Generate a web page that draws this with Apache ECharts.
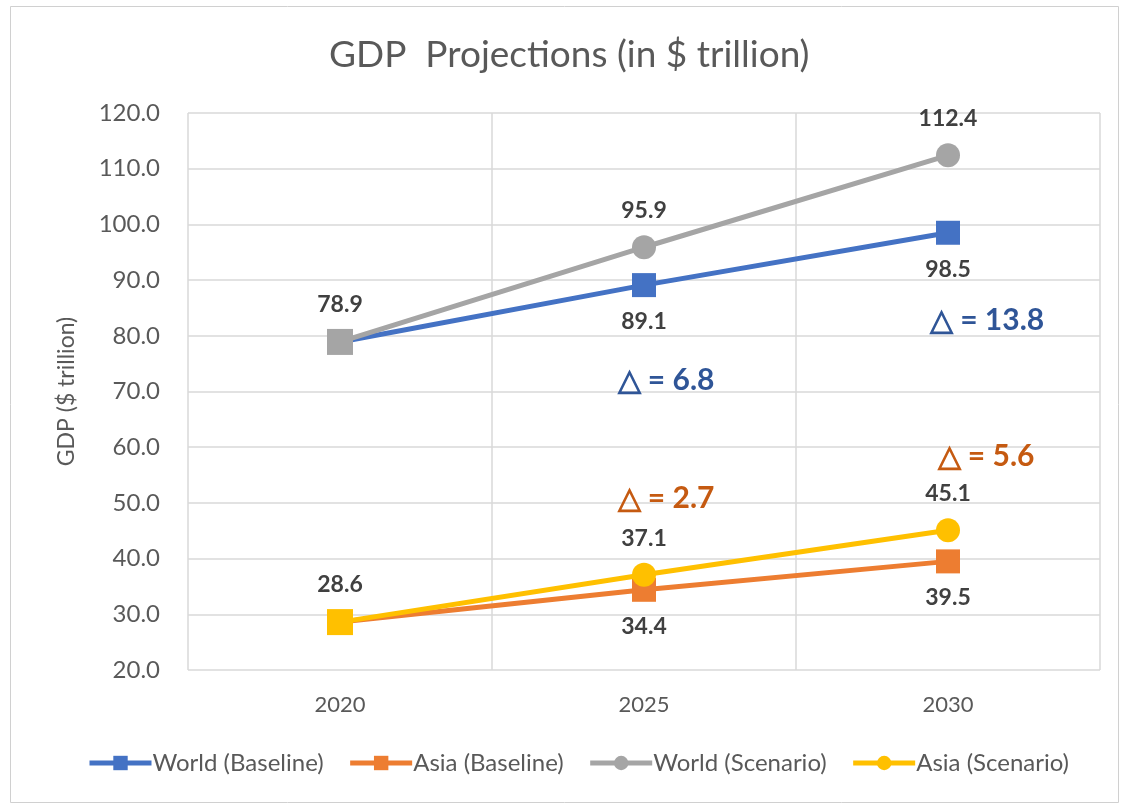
<!DOCTYPE html>
<html>
<head>
<meta charset="utf-8">
<script src="https://cdn.jsdelivr.net/npm/echarts@6/dist/echarts.min.js"></script>
<style>
  html, body { margin: 0; padding: 0; background: #fff; }
  #chart { width: 1122px; height: 803px; }
</style>
</head>
<body>
<div id="chart"></div>
<script>
// Years on the horizontal axis
const years = ['2020', '2025', '2030'];

// GDP values, $ trillion
const worldBaseline = [78.9, 89.1, 98.5];
const asiaBaseline = [28.6, 34.4, 39.5];
const worldScenario = [78.9, 95.9, 112.4];
const asiaScenario = [28.6, 37.1, 45.1];

// Gap annotations (scenario minus baseline)
const deltaWorldText = ['', '△ = 6.8', '△ = 13.8'];
const deltaAsiaText = ['', '△ = 2.7', '△ = 5.6'];
// value-axis anchor for each annotation
const deltaWorldAt = [null, 72.0, 82.8];
const deltaAsiaAt = [null, 50.9, 58.4];

const yTicks = { min: 20, max: 120, step: 10 };

const FONT = 'Lato, "Open Sans", sans-serif';
const C = {
  blue: '#4472C4', orange: '#ED7D31', gray: '#A5A5A5', yellow: '#FFC000',
  deltaBlue: '#2F5597', deltaOrange: '#C55A11', text: '#595959', label: '#404040',
  grid: '#D9D9D9'
};

const labelStyle = {
  show: true, fontFamily: FONT, fontSize: 23, fontWeight: 'bold', color: C.label, distance: 13
};

function pts(values, pos, opts) {
  opts = opts || {};
  return values.map((v, i) => {
    const d = { value: v, label: Object.assign({}, labelStyle, { position: pos }) };
    if (opts.hideFirst && i === 0) d.label = { show: false };
    if (opts.firstSquare && i === 0) { d.symbol = 'rect'; d.symbolSize = 26; }
    return d;
  });
}

function deltaPoints(texts, at, color, dx) {
  return texts.map((t, i) => at[i] == null ? null : {
    coord: [years[i], at[i]],
    symbol: 'circle', symbolSize: 1,
    itemStyle: { color: 'rgba(0,0,0,0)' },
    label: {
      show: true, formatter: t, position: 'inside', offset: [dx[i], 0],
      fontFamily: FONT, fontSize: 30, fontWeight: 'bold', color: color
    }
  }).filter(Boolean);
}

const chart = echarts.init(document.getElementById('chart'), null, { renderer: 'canvas' });

chart.setOption({
  backgroundColor: '#fff',
  animation: false,
  title: {
    text: 'GDP  Projections (in $ trillion)',
    left: 324, top: 32,
    textStyle: { fontFamily: FONT, fontSize: 37, fontWeight: 'normal', color: C.text }
  },
  graphic: [{
    type: 'rect', left: 8, top: 4,
    shape: { width: 1108, height: 796 },
    style: { fill: 'none', stroke: '#D0D0D0', lineWidth: 1 }
  }],
  legend: {
    bottom: 23, left: 82,
    itemWidth: 62, itemHeight: 18, itemGap: 24,
    lineStyle: { width: 5 },
    textStyle: { fontFamily: FONT, fontSize: 24, color: C.text, padding: [0, 0, 0, -4] },
    data: ['World (Baseline)', 'Asia (Baseline)', 'World (Scenario)', 'Asia (Scenario)']
  },
  grid: { left: 188, right: 22, top: 113, bottom: 133, containLabel: false },
  xAxis: {
    type: 'category', data: years, boundaryGap: true,
    axisLine: { show: false }, axisTick: { show: false },
    axisLabel: { fontFamily: FONT, fontSize: 22, color: C.text, margin: 24 },
    splitLine: { show: true, lineStyle: { color: C.grid, width: 1.5 } }
  },
  yAxis: {
    type: 'value', min: yTicks.min, max: yTicks.max, interval: yTicks.step,
    name: 'GDP ($ trillion)', nameLocation: 'middle', nameGap: 110, nameRotate: 90,
    nameTextStyle: { fontFamily: FONT, fontSize: 23, color: C.text },
    axisLine: { show: false }, axisTick: { show: false },
    axisLabel: { fontFamily: FONT, fontSize: 24, color: C.text, margin: 28, formatter: v => v.toFixed(1) },
    splitLine: { show: true, lineStyle: { color: C.grid, width: 1.5 } }
  },
  series: [
    {
      name: 'World (Baseline)', type: 'line', data: pts(worldBaseline, 'bottom', { hideFirst: true }),
      symbol: 'rect', symbolSize: 24, color: C.blue,
      lineStyle: { width: 5, color: C.blue }, itemStyle: { color: C.blue }, z: 2,
      markPoint: { data: deltaPoints(deltaWorldText, deltaWorldAt, C.deltaBlue, [0, 22, 39]) }
    },
    {
      name: 'Asia (Baseline)', type: 'line', data: pts(asiaBaseline, 'bottom', { hideFirst: true }),
      symbol: 'rect', symbolSize: 24, color: C.orange,
      lineStyle: { width: 5, color: C.orange }, itemStyle: { color: C.orange }, z: 2,
      markPoint: { data: deltaPoints(deltaAsiaText, deltaAsiaAt, C.deltaOrange, [0, 22, 38]) }
    },
    {
      name: 'World (Scenario)', type: 'line', data: pts(worldScenario, 'top', { firstSquare: true }),
      symbol: 'circle', symbolSize: 24, color: C.gray,
      lineStyle: { width: 5, color: C.gray }, itemStyle: { color: C.gray }, z: 3
    },
    {
      name: 'Asia (Scenario)', type: 'line', data: pts(asiaScenario, 'top', { firstSquare: true }),
      symbol: 'circle', symbolSize: 24, color: C.yellow,
      lineStyle: { width: 5, color: C.yellow }, itemStyle: { color: C.yellow }, z: 3
    }
  ]
});
</script>
</body>
</html>
